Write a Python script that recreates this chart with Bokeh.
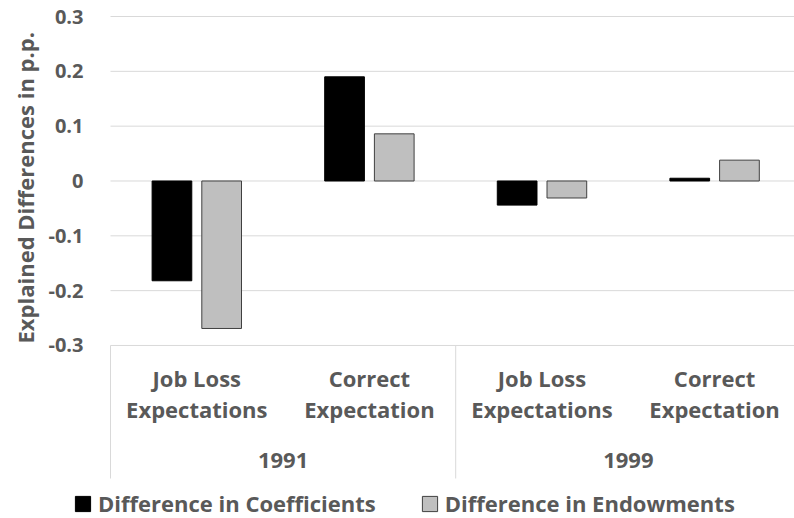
from bokeh.plotting import figure
from bokeh.models import (Range1d, FixedTicker, ColumnDataSource, Legend, LegendItem, Title)
from bokeh.embed import file_html
from bokeh.resources import INLINE
from bokeh.core.properties import value

# ---------------- data ----------------
years = ["1991", "1999"]
year_of_category = ["1991", "1991", "1999", "1999"]
categories = ["Job Loss\nExpectations", "Correct\nExpectation",
              "Job Loss\nExpectations", "Correct\nExpectation"]
series_names = ["Difference in Coefficients", "Difference in Endowments"]
coefficients = [-0.182, 0.190, -0.044, 0.005]
endowments = [-0.269, 0.086, -0.031, 0.038]
y_ticks = [-0.3, -0.2, -0.1, 0, 0.1, 0.2, 0.3]
y_tick_labels = ["-0.3", "-0.2", "-0.1", "0", "0.1", "0.2", "0.3"]
y_title = "Explained Differences in p.p."

# ---------------- style / layout (pixel positions in the picture) ----------------
FONT = "Open Sans"
TXT = "#595959"
GRID = "#D9D9D9"
BLACK = "#000000"
GRAY = "#BFBFBF"
GRAY_EDGE = "#404040"
LABEL_SIZE = 22

W, H = 794, 518
FRAME_LEFT = 70           # frame starts here (legend sits inside it)
PLOT_LEFT = 110           # left edge of the category area
CAT_PX = 172.6            # pixels per category
PX_PER_UNIT = 548.3       # pixels per 1.0 on the value axis
TOP_PY = 16               # row of the 0.3 gridline
TITLE_LEN = 325           # approx. rendered length of the y title
y_max = max(y_ticks)
y_min = min(y_ticks)


def py_to_y(py):
    """picture row -> value-axis coordinate"""
    return y_max - (py - TOP_PY) / PX_PER_UNIT


x_start = -0.5 - (PLOT_LEFT - FRAME_LEFT) / CAT_PX
x_end = -0.5 + (W - PLOT_LEFT) / CAT_PX
OFF = 0.144
BW = 0.23

idx = list(range(len(categories)))
src = ColumnDataSource(dict(
    x_c=[i - OFF for i in idx],
    x_e=[i + OFF for i in idx],
    coef=coefficients,
    endo=endowments,
))

p = figure(width=W, height=H, output_backend="svg", toolbar_location=None,
           x_range=Range1d(x_start, x_end),
           y_range=Range1d(py_to_y(H), py_to_y(0)),
           x_axis_location=None, min_border_left=FRAME_LEFT, min_border_right=0,
           min_border_top=0, min_border_bottom=0)
p.outline_line_color = None
p.background_fill_color = "white"
p.grid.visible = False

# horizontal gridlines over the category area only
p.segment(x0=[-0.5] * len(y_ticks), y0=y_ticks, x1=[x_end] * len(y_ticks), y1=y_ticks,
          line_color=GRID, line_width=1)

r_coef = p.vbar(x="x_c", top="coef", bottom=0, width=BW, source=src,
                fill_color=BLACK, line_color=BLACK, line_width=1)
r_endo = p.vbar(x="x_e", top="endo", bottom=0, width=BW, source=src,
                fill_color=GRAY, line_color=GRAY_EDGE, line_width=1)

# y axis: labels end about 27 px left of the category area
ya = p.yaxis[0]
ya.ticker = FixedTicker(ticks=y_ticks)
ya.major_label_overrides = dict(zip(y_ticks, y_tick_labels))
ya.axis_line_color = None
ya.major_tick_line_color = None
ya.minor_tick_line_color = None
ya.major_tick_in = 0
ya.major_tick_out = 0
ya.major_label_standoff = FRAME_LEFT - (PLOT_LEFT - 27)
ya.major_label_text_font = FONT
ya.major_label_text_font_style = "bold"
ya.major_label_text_font_size = "20px"
ya.major_label_text_color = TXT

# y title, centred on the value area (offset from the bottom of the frame)
value_centre_py = TOP_PY + (y_max - (y_min + y_max) / 2) * PX_PER_UNIT
p.add_layout(Title(text=y_title, align="left",
                   offset=H - (value_centre_py + TITLE_LEN / 2),
                   text_font=FONT, text_font_style="bold",
                   text_font_size=f"{LABEL_SIZE}px", text_color=TXT, standoff=12), "left")

# category labels (two lines each)
line1 = [c.split("\n")[0] for c in categories]
line2 = [c.split("\n")[1] for c in categories]
common = dict(text_align="center", text_baseline="middle", text_font=value(FONT),
              text_font_style="bold", text_font_size=f"{LABEL_SIZE}px", text_color=TXT)
p.text(x=idx, y=[py_to_y(377)] * len(idx), text=line1, **common)
p.text(x=idx, y=[py_to_y(408)] * len(idx), text=line2, **common)

# year labels
year_x = [sum(i for i in idx if year_of_category[i] == y) /
          sum(1 for i in idx if year_of_category[i] == y) for y in years]
p.text(x=year_x, y=[py_to_y(460)] * len(years), text=years, **common)

# group separators
seps = [-0.5] + [i + 0.5 for i in idx[:-1]
                 if year_of_category[i] != year_of_category[i + 1]] + [idx[-1] + 0.5]
p.segment(x0=seps, y0=[y_min] * len(seps), x1=seps,
          y1=[py_to_y(478)] * len(seps), line_color=GRID, line_width=1)

# legend
legend = Legend(items=[LegendItem(label=series_names[0], renderers=[r_coef]),
                       LegendItem(label=series_names[1], renderers=[r_endo])],
                orientation="horizontal", location=(3, 0),
                glyph_width=19, glyph_height=19, label_standoff=6, spacing=44,
                padding=0, margin=0, border_line_color=None,
                background_fill_alpha=0,
                label_text_font=FONT, label_text_font_style="bold",
                label_text_font_size=f"{LABEL_SIZE}px", label_text_color=TXT)
p.add_layout(legend, "center")

open("out.html", "w").write(file_html(p, INLINE))
